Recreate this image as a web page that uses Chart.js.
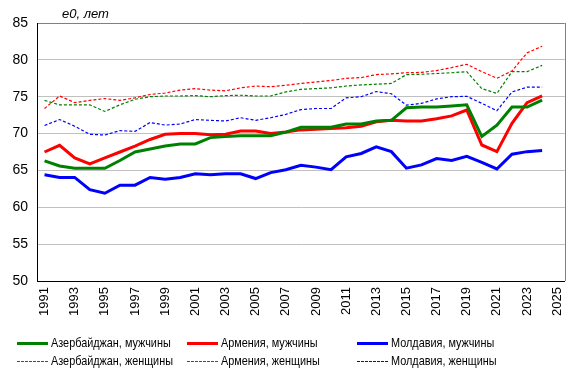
<!DOCTYPE html>
<html><head><meta charset="utf-8">
<script src="https://cdn.jsdelivr.net/npm/chart.js@4"></script>
<style>html,body{margin:0;padding:0;background:#fff;}#wrap{width:579px;height:375px;position:relative;}</style>
</head><body><div id="wrap"><canvas id="c" width="579" height="375"></canvas></div>
<script>
const years = ['1991','1992','1993','1994','1995','1996','1997','1998','1999','2000','2001','2002','2003','2004','2005','2006','2007','2008','2009','2010','2011','2012','2013','2014','2015','2016','2017','2018','2019','2020','2021','2022','2023','2024','2025'];
const azM  = [66.3,65.6,65.3,65.3,65.3,66.35,67.5,67.9,68.3, 68.6,68.6,69.45,69.6,69.7,69.7,69.7,70.2,70.85, 70.85,70.85,71.3,71.3,71.7,71.8,73.5,73.6,73.6, 73.75,73.9,69.6,71.15,73.6,73.6,74.55];
const armM = [67.5,68.4,66.7,65.9,66.7,67.5,68.3,69.2,69.9, 70.0,70.0,69.85,69.9,70.35,70.35,70.0,70.2,70.5, 70.6,70.7,70.8,71.0,71.6,71.8,71.7,71.7,72.0, 72.4,73.2,68.45,67.55,71.4,74.2,75.1];
const molM = [64.4,64.05,64.05,62.4,61.9,63.0,63.0,64.05,63.8, 64.05,64.55,64.4,64.55,64.55,63.9,64.7,65.1,65.7, 65.45,65.1,66.85,67.3,68.2,67.55,65.3,65.75,66.6, 66.35,66.9,66.1,65.2,67.2,67.55,67.7];
const azF  = [74.5,73.9,73.9,73.9,73.0,73.9,74.65,75.0,75.1, 75.1,75.15,75.0,75.15,75.2,75.1,75.1,75.65,76.0, 76.1,76.2,76.45,76.6,76.7,76.8,78.0,78.05,78.15, 78.25,78.4,76.1,75.45,78.4,78.4,79.25];
const armF = [73.4,75.1,74.2,74.5,74.75,74.5,74.85,75.3,75.5, 75.9,76.1,75.9,75.8,76.2,76.45,76.35,76.55,76.8, 77.0,77.2,77.5,77.6,78.0,78.1,78.25,78.3,78.55, 78.95,79.4,78.4,77.5,78.5,80.95,81.85];
const molF = [71.1,71.9,71.0,69.9,69.8,70.4,70.3,71.5,71.15, 71.3,71.9,71.8,71.7,72.15,71.8,72.15,72.6,73.25, 73.4,73.4,74.85,75.0,75.7,75.4,73.85,74.1,74.7, 75.0,75.05,74.1,73.1,75.65,76.3,76.3];
const seriesNames = ['Азербайджан, мужчины','Армения, мужчины','Молдавия, мужчины','Азербайджан, женщины','Армения, женщины','Молдавия, женщины'];
const axisTitle = 'e0, лет';

const FONT = '"Liberation Sans", Arial, sans-serif';
const GREEN = '#008000', RED = '#ff0000', BLUE = '#0000ff';
const DOT = [3, 2];

function ds(label, data, color, dotted) {
  return {label, data, borderColor: color, backgroundColor: color,
    borderWidth: dotted ? 1.2 : 3, borderDash: dotted ? DOT : [],
    pointRadius: 0, tension: 0, fill: false, spanGaps: false, _dotted: dotted};
}

const frame = {
  id: 'frame',
  afterDraw(chart) {
    const {ctx, chartArea: a} = chart;
    ctx.save();
    ctx.strokeStyle = '#808080'; ctx.lineWidth = 1;
    ctx.beginPath();
    ctx.moveTo(Math.round(a.right) + 0.5, a.top); ctx.lineTo(Math.round(a.right) + 0.5, a.bottom);
    ctx.stroke();
    // title
    ctx.fillStyle = '#000';
    ctx.font = 'italic 13px ' + FONT;
    ctx.textBaseline = 'middle'; ctx.textAlign = 'left';
    ctx.fillText(axisTitle, 62, 14);
    // legend
    const colX = [17, 187, 357];
    const rowY = [343, 361];
    ctx.font = '13px ' + FONT;
    chart.data.datasets.forEach((d, i) => {
      const c = i % 3, r = Math.floor(i / 3);
      const x = colX[c], y = rowY[r];
      ctx.fillStyle = d.borderColor;
      if (d._dotted) {
        for (let k = 0; k < 31; k += 4) ctx.fillRect(x + k, y, Math.min(3, 31 - k), 1);
      } else {
        ctx.fillRect(x, y - 1, 31, 3);
      }
      ctx.fillStyle = '#000';
      ctx.save();
      ctx.translate(x + 34, y);
      ctx.scale(0.835, 1);
      ctx.fillText(d.label, 0, 0);
      ctx.restore();
    });
    ctx.restore();
  }
};

new Chart(document.getElementById('c'), {
  type: 'line',
  data: {
    labels: years,
    datasets: [
      ds(seriesNames[0], azM, GREEN, false),
      ds(seriesNames[1], armM, RED, false),
      ds(seriesNames[2], molM, BLUE, false),
      ds(seriesNames[3], azF, GREEN, true),
      ds(seriesNames[4], armF, RED, true),
      ds(seriesNames[5], molF, BLUE, true)
    ]
  },
  options: {
    responsive: false, animation: false, devicePixelRatio: 1,
    layout: {padding: {left: 0, top: 23, right: 13, bottom: 0}},
    plugins: {legend: {display: false}, tooltip: {enabled: false}, title: {display: false}},
    scales: {
      x: {
        offset: true,
        grid: {display: false, drawTicks: false},
        border: {display: true, color: '#000', width: 1},
        ticks: {
          autoSkip: false, minRotation: 90, maxRotation: 90, padding: 6,
          color: '#000', font: {family: FONT, size: 13},
          callback(v, i) { const y = parseInt(years[i]); return (y % 2 === 1) ? years[i] : ''; }
        },
        afterFit(s) { s.height = 94; }
      },
      y: {
        min: 50, max: 85,
        grid: {drawTicks: false, color: (c) => c.tick && c.tick.value === 85 ? '#808080' : '#c0c0c0', lineWidth: 1},
        border: {display: true, color: '#000', width: 1},
        ticks: {stepSize: 5, padding: 9, color: '#000', font: {family: FONT, size: 14}},
        afterFit(s) { s.width = 37; }
      }
    }
  },
  plugins: [frame]
});
</script></body></html>
